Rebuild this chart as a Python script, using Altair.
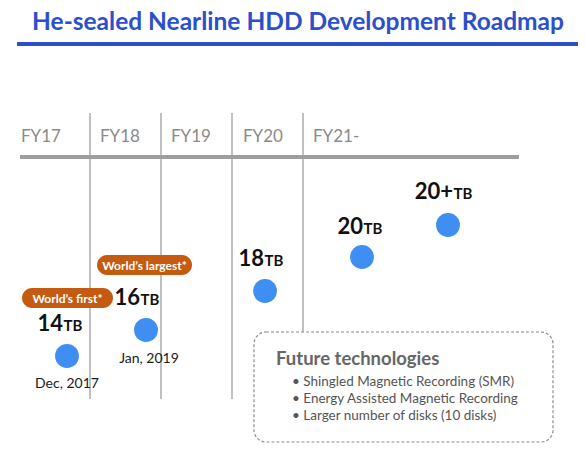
import altair as alt
import pandas as pd

# ---- data ----
title_text = "He-sealed Nearline HDD Development Roadmap"
fiscal_years = ["FY17", "FY18", "FY19", "FY20", "FY21-"]
fy_label_x = [21, 100, 171, 243, 313]
divider_x = [90, 161, 232, 303]
divider_bottom = [399, 399, 399, 332]

capacities = ["14", "16", "18", "20", "20+"]
unit = ["TB", "TB", "TB", "TB", "TB"]
point_x = [67, 146, 265, 362, 448]
point_y = [356, 330, 291, 257, 225]
label_split_x = [63, 140, 264, 363, 453]
label_base_y = [331, 305, 266, 234, 199]

release_dates = ["Dec, 2017", "Jan, 2019"]
date_x = [67, 149]
date_y = [388, 363]

badges = ["World\u2019s first*", "World\u2019s largest*"]
badge_x0 = [22, 97]
badge_x1 = [113, 192]
badge_y0 = [288, 255]
badge_y1 = [308, 275]

future_title = "Future technologies"
future_items = [
    "Shingled Magnetic Recording (SMR)",
    "Energy Assisted Magnetic Recording",
    "Larger number of disks (10 disks)",
]
future_item_y = [386, 403, 420]

FONT = "Lato"
W, H = 570, 435
xs = alt.Scale(domain=[8, 8 + W], nice=False, zero=False)
ys = alt.Scale(domain=[8, 8 + H], nice=False, zero=False, reverse=True)
X = lambda f: alt.X(f, type="quantitative", scale=xs, axis=None)
Y = lambda f: alt.Y(f, type="quantitative", scale=ys, axis=None)

# frames
title_df = pd.DataFrame({"t": [title_text], "x": [298], "y": [30]})
underline_df = pd.DataFrame({"x": [17], "x2": [586], "y": [44]})
fy_df = pd.DataFrame({"fy": fiscal_years, "x": fy_label_x, "y": [142] * 5})
hrule_df = pd.DataFrame({"x": [20], "x2": [519], "y": [157]})
div_df = pd.DataFrame({"x": divider_x, "y": [113] * 4, "y2": divider_bottom})
pts_df = pd.DataFrame({"cap": capacities, "unit": unit, "x": point_x, "y": point_y,
                       "lx": label_split_x, "ly": label_base_y})
date_df = pd.DataFrame({"d": release_dates, "x": date_x, "y": date_y})
badge_df = pd.DataFrame({"b": badges, "x": badge_x0, "x2": badge_x1, "y": badge_y0, "y2": badge_y1})
badge_df["cx"] = (badge_df["x"] + badge_df["x2"]) / 2
badge_df["cy"] = (badge_df["y"] + badge_df["y2"]) / 2 + 0.5
box_df = pd.DataFrame({"x": [254], "x2": [553], "y": [332], "y2": [442]})
ft_df = pd.DataFrame({"t": [future_title], "x": [276], "y": [365]})
fi_df = pd.DataFrame({"t": ["\u2022  " + s for s in future_items], "x": [292] * 3, "y": future_item_y})

title = alt.Chart(title_df).mark_text(font=FONT, fontSize=24.5, fontWeight="bold", color="#2c4fcb",
                                      align="center", baseline="alphabetic").encode(x=X("x"), y=Y("y"), text="t:N")
underline = alt.Chart(underline_df).mark_rule(color="#2c4fcb", strokeWidth=4).encode(x=X("x"), x2="x2:Q", y=Y("y"))
fy = alt.Chart(fy_df).mark_text(font=FONT, fontSize=17, color="#8a8a8a", align="left",
                                baseline="alphabetic").encode(x=X("x"), y=Y("y"), text="fy:N")
hrule = alt.Chart(hrule_df).mark_rule(color="#9e9e9e", strokeWidth=4).encode(x=X("x"), x2="x2:Q", y=Y("y"))
div = alt.Chart(div_df).mark_rule(color="#ababab", strokeWidth=1.5).encode(x=X("x"), y=Y("y"), y2="y2:Q")
box = alt.Chart(box_df).mark_rect(fill="white", stroke="#8c8c8c", strokeWidth=1.2, strokeDash=[3, 2],
                                  cornerRadius=12).encode(x=X("x"), x2="x2:Q", y=Y("y"), y2="y2:Q")
circles = alt.Chart(pts_df).mark_circle(size=570, color="#3f8ef3", opacity=1).encode(x=X("x"), y=Y("y"))
cap_num = alt.Chart(pts_df).mark_text(font=FONT, fontSize=22, fontWeight="bold", color="#111111",
                                      align="right", baseline="alphabetic").encode(x=X("lx"), y=Y("ly"), text="cap:N")
cap_unit = alt.Chart(pts_df).mark_text(font=FONT, fontSize=15, fontWeight="bold", color="#111111",
                                       align="left", baseline="alphabetic", dx=0.5).encode(x=X("lx"), y=Y("ly"), text="unit:N")
dates = alt.Chart(date_df).mark_text(font=FONT, fontSize=14, color="#1a1a1a", align="center",
                                     baseline="alphabetic").encode(x=X("x"), y=Y("y"), text="d:N")
badge_rect = alt.Chart(badge_df).mark_rect(color="#c55a11", cornerRadius=10).encode(
    x=X("x"), x2="x2:Q", y=Y("y"), y2="y2:Q")
badge_text = alt.Chart(badge_df).mark_text(font=FONT, fontSize=12, fontWeight="bold", color="white",
                                           align="center", baseline="middle").encode(x=X("cx"), y=Y("cy"), text="b:N")
ft = alt.Chart(ft_df).mark_text(font=FONT, fontSize=18.5, fontWeight="bold", color="#666666", align="left",
                                baseline="alphabetic").encode(x=X("x"), y=Y("y"), text="t:N")
fi = alt.Chart(fi_df).mark_text(font=FONT, fontSize=13.5, color="#555555", align="left",
                                baseline="alphabetic").encode(x=X("x"), y=Y("y"), text="t:N")

chart = alt.layer(
    title, underline, div, fy, hrule, box, circles, cap_num, cap_unit, dates,
    badge_rect, badge_text, ft, fi
).properties(
    width=W, height=H, padding=0, background="white",
    autosize=alt.AutoSizeParams(type="none"),
).configure_view(stroke=None)

chart.save("out.html", embed_options={"renderer": "svg", "actions": False})
